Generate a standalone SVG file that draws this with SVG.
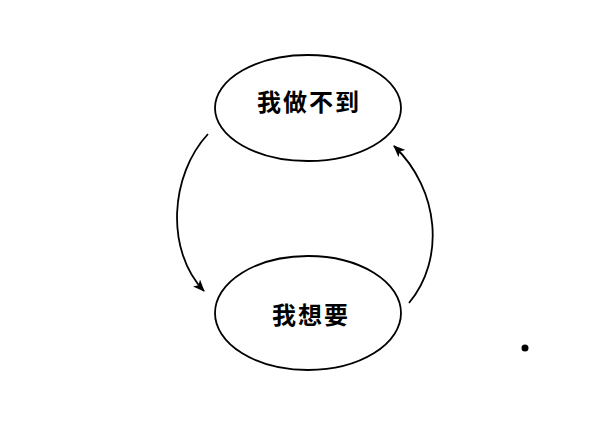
<svg xmlns="http://www.w3.org/2000/svg" width="600" height="442" viewBox="0 0 600 442">
<style>
.node ellipse{fill:#fff;stroke:#000;stroke-width:1.8}
.node text{font-family:"Noto Sans CJK SC","Noto Sans CJK JP",sans-serif;font-size:24px;font-weight:bold;fill:#000;text-anchor:middle;letter-spacing:2px}
.edge{fill:none;stroke:#000;stroke-width:1.8}
</style>
<defs>
<marker id="arr" viewBox="0 0 12 10" refX="11" refY="5" markerWidth="12" markerHeight="10" markerUnits="userSpaceOnUse" orient="auto">
<path d="M0,0 L12,5 L0,10 L3,5 z" fill="#000"/>
</marker>
</defs>
<rect width="600" height="442" fill="#fff"/>
<g id="connectors">
<path class="edge" d="M208,134 C170,175 165,250 204,291" marker-end="url(#arr)"/>
<path class="edge" d="M409,303 C445,260 440,190 394,146" marker-end="url(#arr)"/>
</g>
<g id="node-top" class="node">
<ellipse cx="308" cy="108" rx="93" ry="53"/>
<text x="309" y="111">我做不到</text>
</g>
<g id="node-bottom" class="node">
<ellipse cx="308" cy="313" rx="93" ry="57"/>
<text x="311" y="324">我想要</text>
</g>
<circle cx="525" cy="348" r="3.5" fill="#000"/>
</svg>
